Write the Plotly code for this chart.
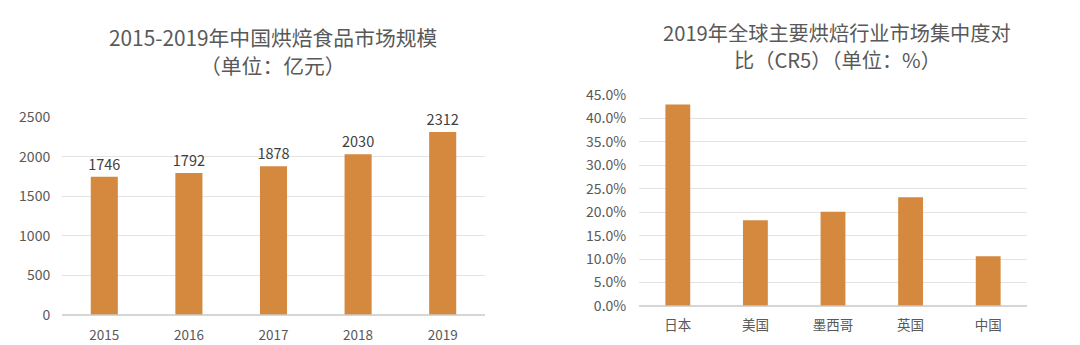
import plotly.graph_objects as go

# Left chart: China bakery market size, 2015-2019 (100M CNY)
years = ["2015", "2016", "2017", "2018", "2019"]
market_size = [1746, 1792, 1878, 2030, 2312]
size_ticks = [0, 500, 1000, 1500, 2000, 2500]

# Right chart: CR5 concentration of bakery industry by country, 2019
countries = ["日本", "美国", "墨西哥", "英国", "中国"]
cr5 = [0.430, 0.183, 0.201, 0.232, 0.106]
cr5_ticks = [0, 0.05, 0.10, 0.15, 0.20, 0.25, 0.30, 0.35, 0.40, 0.45]

BAR = "#d4893f"
FONT = "Noto Sans CJK SC, Microsoft YaHei, sans-serif"
TICK = "#595959"
GRID = "#e3e3e3"
W, H = 1080, 345

fig = go.Figure()

fig.add_trace(go.Bar(
    x=years, y=market_size, marker=dict(color=BAR, line=dict(width=0)),
    text=[str(v) for v in market_size], textposition="outside",
    constraintext="none",
    textfont=dict(size=14.5, color="#404040", family=FONT),
    cliponaxis=False, xaxis="x", yaxis="y", showlegend=False,
))
fig.add_trace(go.Bar(
    x=countries, y=cr5, marker=dict(color=BAR, line=dict(width=0)),
    xaxis="x2", yaxis="y2", showlegend=False,
))

axis_common = dict(showline=False, zeroline=False, automargin=False,
                   tickfont=dict(size=14, color=TICK, family=FONT))

fig.update_layout(
    width=W, height=H,
    margin=dict(l=0, r=0, t=0, b=0, pad=0, autoexpand=False),
    paper_bgcolor="white", plot_bgcolor="white",
    bargap=0.68,
    font=dict(family=FONT, color=TICK),
    xaxis=dict(domain=[62 / W, 485 / W], anchor="y", showgrid=False,
               ticks="outside", ticklen=8, tickcolor="rgba(0,0,0,0)",
               **axis_common),
    yaxis=dict(domain=[1 - 315 / H, 1 - 117 / H], anchor="x",
               range=[0, 2500], tickvals=size_ticks,
               showgrid=True, gridcolor=GRID, gridwidth=1,
               ticks="outside", ticklen=8, tickcolor="rgba(0,0,0,0)",
               **axis_common),
    xaxis2=dict(domain=[639 / W, 1027 / W], anchor="y2", showgrid=False,
                ticks="outside", ticklen=7, tickcolor="rgba(0,0,0,0)",
                **axis_common),
    yaxis2=dict(domain=[1 - 306 / H, 1 - 95 / H], anchor="x2",
                range=[0, 0.45], tickvals=cr5_ticks, tickformat=".1%",
                showgrid=True, gridcolor=GRID, gridwidth=1,
                ticks="outside", ticklen=9, tickcolor="rgba(0,0,0,0)",
                **axis_common),
)
fig.update_xaxes(tickfont=dict(size=13.5))

# Baseline under each set of bars
for xd, yb in [((62 / W, 485 / W), 1 - 315 / H), ((639 / W, 1027 / W), 1 - 306 / H)]:
    fig.add_shape(type="line", xref="paper", yref="paper",
                  x0=xd[0], x1=xd[1], y0=yb, y1=yb,
                  line=dict(color="#c8c8c8", width=1.5))

# Two-line titles, one annotation per line
titles = [
    ("2015-2019年中国烘焙食品市场规模", 273, 37, 20.8),
    ("（单位：亿元）", 273, 65, 20.8),
    ("2019年全球主要烘焙行业市场集中度对", 837, 32, 20.2),
    ("比（CR5）（单位：%）", 837, 59, 20.2),
]
for text, cx, cy, size in titles:
    fig.add_annotation(
        text=text, xref="paper", yref="paper", x=cx / W, y=1 - cy / H,
        xanchor="center", yanchor="middle", showarrow=False,
        font=dict(size=size, color="#595959", family=FONT),
    )

fig.write_html("out.html")
